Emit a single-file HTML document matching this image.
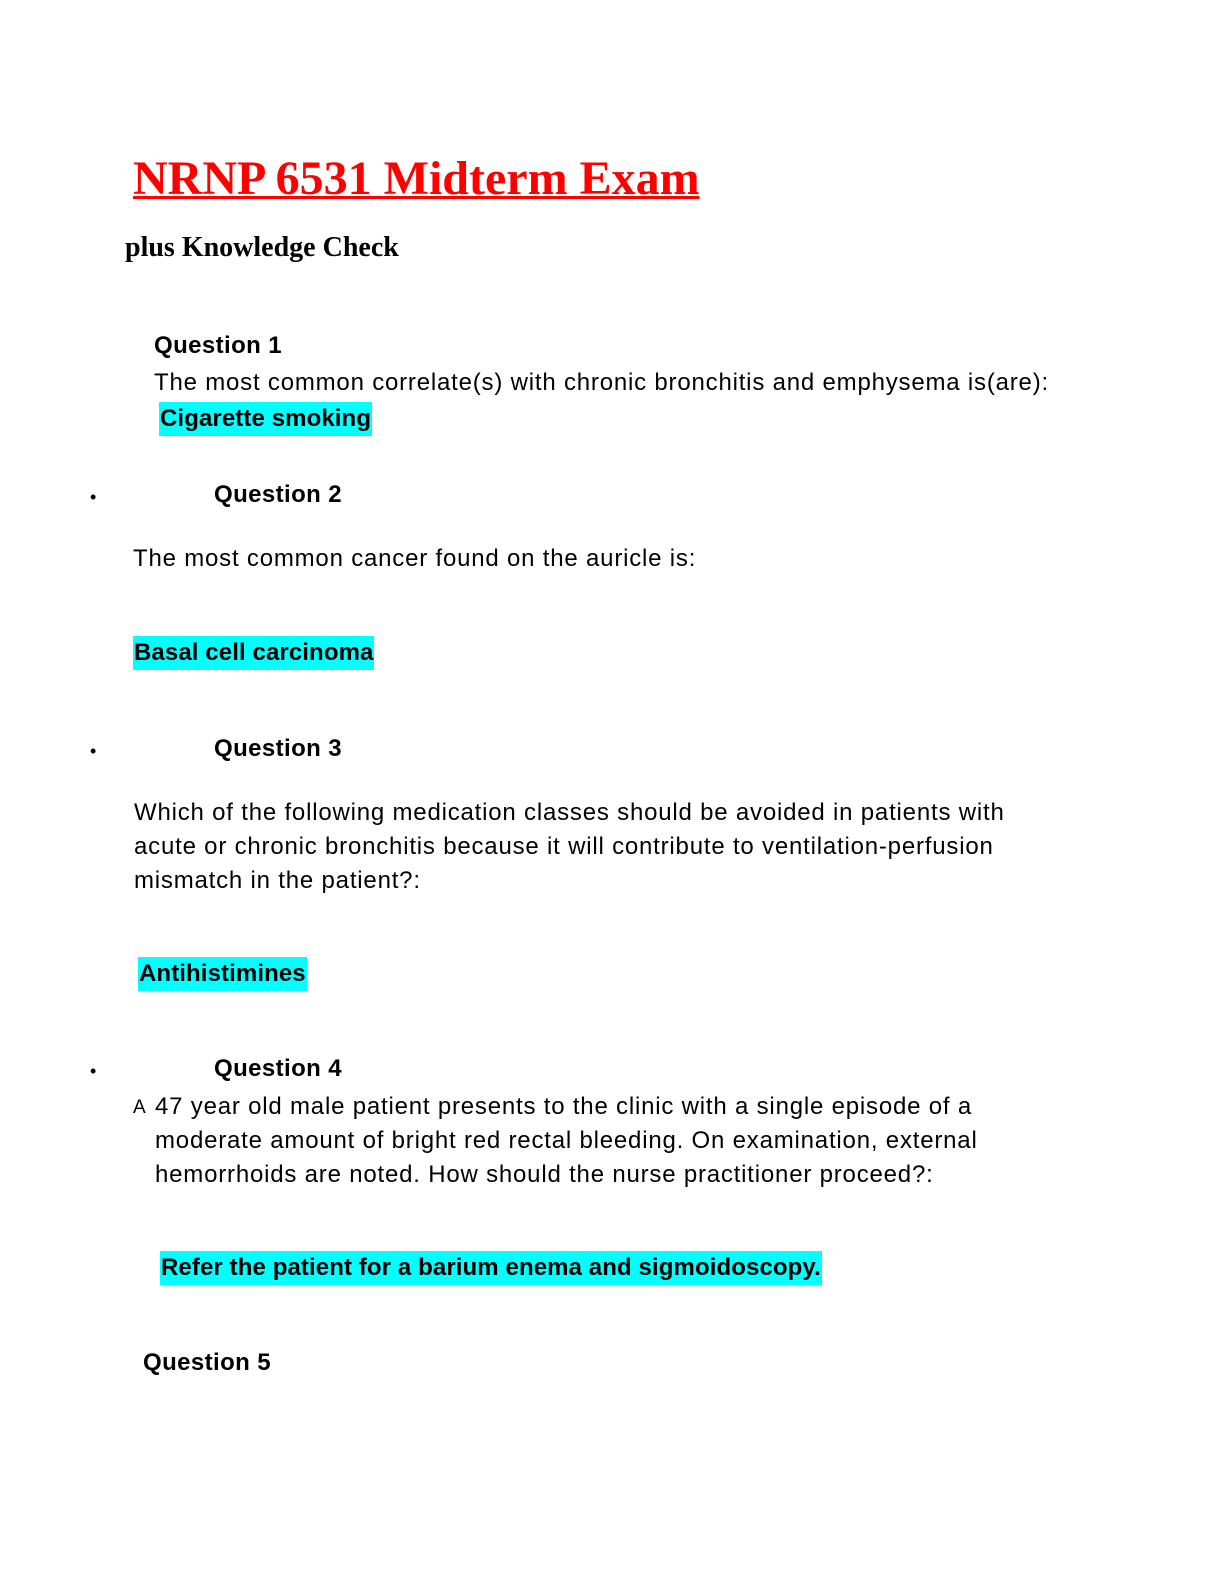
<!DOCTYPE html>
<html><head><meta charset="utf-8"><style>
body{margin:0;width:1224px;height:1584px;background:#fff;position:relative;font-family:"Liberation Sans",sans-serif;color:#000}
.t{position:absolute;white-space:nowrap;font-size:24px;line-height:34px;letter-spacing:0.8px}
.b{font-weight:bold;letter-spacing:0.4px}
.h{background:#00ffff;font-weight:bold;letter-spacing:0.1px;padding:0 1px}
</style></head><body>
<div class="t" style="left:133px;top:149px;font-family:'Liberation Serif',serif;font-weight:bold;font-size:48px;line-height:60px;letter-spacing:0;color:#f00;text-decoration:underline;text-decoration-thickness:3px">NRNP 6531 Midterm Exam</div>
<div class="t b" style="left:125px;top:231px;font-family:'Liberation Serif',serif;font-size:28px;letter-spacing:0">plus Knowledge Check</div>

<div class="t b" style="left:154px;top:329px">Question 1</div>
<div class="t" style="left:154px;top:366px">The most common correlate(s) with chronic bronchitis and emphysema is(are):</div>
<div class="t h" style="left:159px;top:402px">Cigarette smoking</div>

<div class="t" style="left:90px;top:480px;font-size:18px">•</div>
<div class="t b" style="left:214px;top:478px">Question 2</div>
<div class="t" style="left:133px;top:542px">The most common cancer found on the auricle is:</div>
<div class="t h" style="left:133px;top:636px">Basal cell carcinoma</div>

<div class="t" style="left:90px;top:734px;font-size:18px">•</div>
<div class="t b" style="left:214px;top:732px">Question 3</div>
<div class="t" style="left:134px;top:796px">Which of the following medication classes should be avoided in patients with</div>
<div class="t" style="left:134px;top:830px">acute or chronic bronchitis because it will contribute to ventilation-perfusion</div>
<div class="t" style="left:134px;top:864px">mismatch in the patient?:</div>
<div class="t h" style="left:138px;top:957px">Antihistimines</div>

<div class="t" style="left:90px;top:1054px;font-size:18px">•</div>
<div class="t b" style="left:214px;top:1052px">Question 4</div>
<div class="t" style="left:133px;top:1091px;font-size:19px">A</div>
<div class="t" style="left:155px;top:1090px">47 year old male patient presents to the clinic with a single episode of a</div>
<div class="t" style="left:155px;top:1124px">moderate amount of bright red rectal bleeding. On examination, external</div>
<div class="t" style="left:155px;top:1158px">hemorrhoids are noted. How should the nurse practitioner proceed?:</div>
<div class="t h" style="left:160px;top:1251px">Refer the patient for a barium enema and sigmoidoscopy.</div>

<div class="t b" style="left:143px;top:1346px">Question 5</div>
</body></html>
